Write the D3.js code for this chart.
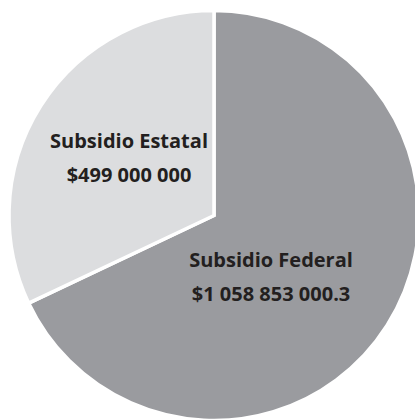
<!DOCTYPE html>
<html>
<head>
<meta charset="utf-8">
<script src="https://cdn.jsdelivr.net/npm/d3@7"></script>
<style>
  body { margin: 0; background: #fff; }
  text { font-family: "Open Sans", sans-serif; font-weight: 700; fill: #231f20; }
</style>
</head>
<body>
<div id="chart"></div>
<script>
var svgWidth = 415;
var svgHeight = 420;

// slice data
var categories = ["Subsidio Federal", "Subsidio Estatal"];
var amounts = [1058853000.3, 499000000];
var amountLabels = ["$1 058 853 000.3", "$499 000 000"];
var colors = ["#9a9b9f", "#dcdddf"];

var cx = 214, cy = 215.5, radius = 205;

var svg = d3.select("#chart")
  .append("svg")
  .attr("width", svgWidth)
  .attr("height", svgHeight);

var chartGroup = svg.append("g")
  .attr("transform", `translate(${cx}, ${cy})`);

var pie = d3.pie().sort(null).value(d => d);
var arcs = pie(amounts);

var arc = d3.arc().innerRadius(0).outerRadius(radius);

chartGroup.selectAll("path")
  .data(arcs)
  .enter()
  .append("path")
  .attr("d", arc)
  .attr("fill", (d, i) => colors[i])
  .attr("stroke", "#fff")
  .attr("stroke-width", 3.5)
  .attr("stroke-linejoin", "miter");

// label positions, relative to the centre
var labelPos = [[57, 51.5], [-85, -67.5]];

var labels = chartGroup.selectAll(".lbl")
  .data(arcs)
  .enter()
  .append("g")
  .attr("class", "lbl")
  .attr("transform", (d, i) => `translate(${labelPos[i][0]}, ${labelPos[i][1]})`);

labels.append("text")
  .attr("text-anchor", "middle")
  .attr("font-size", 20)
  .attr("y", 0)
  .text((d, i) => categories[i]);

labels.append("text")
  .attr("text-anchor", "middle")
  .attr("font-size", 20)
  .attr("y", 33.5)
  .text((d, i) => amountLabels[i]);
</script>
</body>
</html>
